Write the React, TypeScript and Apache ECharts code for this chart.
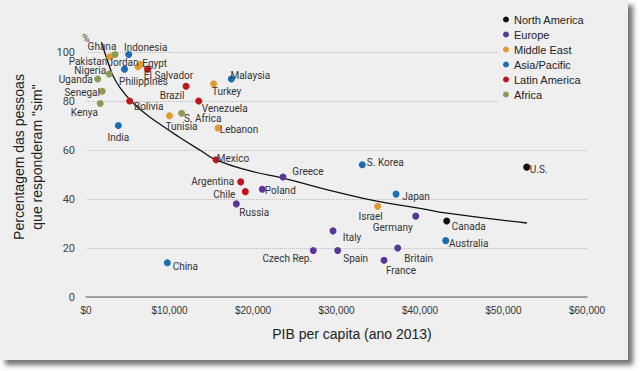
import React, { useEffect, useRef } from "react";
import * as echarts from "echarts";

type Pt = [string, number, number];

// [country, GDP per capita (US$), % answering "sim"]
const northAmerica: Pt[] = [
  ["U.S.", 52780, 53],
  ["Canada", 43200, 31],
];
const europe: Pt[] = [
  ["Greece", 23590, 49],
  ["Poland", 21110, 44],
  ["Russia", 18000, 38],
  ["Italy", 29580, 27],
  ["Czech Rep.", 27220, 19],
  ["Spain", 30140, 19],
  ["Germany", 39490, 33],
  ["Britain", 37330, 20],
  ["France", 35690, 15],
];
const middleEast: Pt[] = [
  ["Pakistan", 2870, 98],
  ["Jordan", 6230, 94],
  ["Egypt", 6550, 95],
  ["Turkey", 15290, 87],
  ["Tunisia", 10000, 74],
  ["Lebanon", 15810, 69],
  ["Israel", 34930, 37],
];
const asiaPacific: Pt[] = [
  ["Indonesia", 5110, 99],
  ["Philippines", 4610, 93],
  ["Malaysia", 17400, 89],
  ["India", 3870, 70],
  ["China", 9740, 14],
  ["S. Korea", 33090, 54],
  ["Japan", 37130, 42],
  ["Australia", 43080, 23],
];
const latinAmerica: Pt[] = [
  ["El Salvador", 7370, 93],
  ["Bolivia", 5230, 80],
  ["Brazil", 11980, 86],
  ["Venezuela", 13500, 80],
  ["Mexico", 15570, 56],
  ["Argentina", 18530, 47],
  ["Chile", 19080, 43],
];
const africa: Pt[] = [
  ["Ghana", 3470, 99],
  ["Nigeria", 2780, 91],
  ["Uganda", 1400, 89],
  ["Senegal", 1940, 84],
  ["Kenya", 1710, 79],
  ["S. Africa", 11460, 75],
];

// trend curve
const trendX = [1850, 2670, 3270, 4280, 5270, 6670, 8660, 11050, 13860, 15570, 19640, 23590, 30420, 34970, 40000, 43230, 52810];
const trendY = [104, 95.5, 90, 84.5, 80.5, 76, 71, 65.5, 59.5, 56, 51.5, 48.5, 42.5, 39, 36.2, 34.2, 30.2];

const xTicks = [0, 10000, 20000, 30000, 40000, 50000, 60000];
const yTicks = [0, 20, 40, 60, 80, 100];

const regionNames = ["North America", "Europe", "Middle East", "Asia/Pacific", "Latin America", "Africa"];
const regionData = [northAmerica, europe, middleEast, asiaPacific, latinAmerica, africa];
const regionColors = ["#111111", "#5b3597", "#e09a30", "#1d6db5", "#c0141b", "#8b9a55"];

// label placement (pixel offset of label centre from dot)
const labelOffset: Record<string, [number, number]> = {
  Ghana: [-13, -8],
  Pakistan: [-22, 5],
  Indonesia: [17, -7],
  Jordan: [-15, -4],
  Egypt: [14, -1],
  "El Salvador": [21, 6],
  Philippines: [19, 12],
  Nigeria: [-19, -4],
  Uganda: [-22, 1],
  Senegal: [-20, 1],
  Kenya: [-16, 9],
  Bolivia: [19, 5],
  India: [0, 12],
  Brazil: [-14, 9],
  Venezuela: [26, 7],
  Turkey: [13, 8],
  Malaysia: [19, -3],
  Tunisia: [12, 11],
  "S. Africa": [21, 5],
  Lebanon: [21, 2],
  Mexico: [17, -1],
  Greece: [25, -5],
  Argentina: [-28, 0],
  Chile: [-21, 3],
  Poland: [18, 1],
  Russia: [18, 9],
  Italy: [19, 7],
  "Czech Rep.": [-26, 8],
  Spain: [18, 8],
  China: [18, 4],
  "S. Korea": [23, -2],
  "U.S.": [12, 2],
  Japan: [20, 2],
  Israel: [-7, 10],
  Germany: [-23, 11],
  Canada: [22, 5],
  Australia: [23, 3],
  Britain: [21, 10],
  France: [17, 10],
};

const fmtMoney = (v: number) => "$" + String(v).replace(/\B(?=(\d{3})+(?!\d))/g, ",");

export default function App() {
  const ref = useRef<HTMLDivElement>(null);
  useEffect(() => {
    if (!ref.current) return;
    const chart = echarts.init(ref.current, null, { renderer: "svg" });
    const labelFont = "Roboto, 'Liberation Sans', Arial, sans-serif";
    const scatterSeries = regionNames.map((name, i) => ({
      name,
      type: "scatter",
      symbol: "circle",
      symbolSize: 7,
      itemStyle: { color: regionColors[i], opacity: 1 },
      label: {
        show: true,
        position: "inside",
        formatter: "{b}",
        color: "#333",
        fontSize: 10,
        fontFamily: labelFont,
        textBorderWidth: 0,
      },
      data: regionData[i].map(([n, x, y]) => ({
        name: n,
        value: [x, y],
        label: { offset: labelOffset[n] || [0, 0] },
      })),
      z: 3,
    }));
    chart.setOption({
      animation: false,
      backgroundColor: "transparent",
      grid: { left: 86, top: 52, right: 53, bottom: 74 },
      legend: {
        data: regionNames,
        orient: "vertical",
        left: 498,
        top: 8,
        padding: [5, 20, 5, 5],
        backgroundColor: "#efefef",
        icon: "circle",
        itemWidth: 6,
        itemHeight: 6,
        itemGap: 2,
        textStyle: { fontSize: 11, color: "#222", fontFamily: "'Liberation Sans', Arial, sans-serif", lineHeight: 13 },
        z: 10,
      },
      xAxis: {
        type: "value",
        min: xTicks[0],
        max: xTicks[xTicks.length - 1],
        interval: xTicks[1] - xTicks[0],
        axisLine: { show: true, lineStyle: { color: "#8a8a8a", width: 1.5 } },
        axisTick: { show: false },
        splitLine: { show: false },
        axisLabel: {
          formatter: (v: number) => fmtMoney(v),
          color: "#333",
          fontSize: 10,
          margin: 8,
          fontFamily: "'Liberation Sans', Arial, sans-serif",
        },
      },
      yAxis: {
        type: "value",
        min: yTicks[0],
        max: yTicks[yTicks.length - 1],
        interval: yTicks[1] - yTicks[0],
        name: "%",
        nameLocation: "end",
        nameGap: 9,
        nameTextStyle: { color: "#444", fontSize: 10, align: "center", fontFamily: labelFont },
        axisLine: { show: false },
        axisTick: { show: false },
        splitLine: { show: true, lineStyle: { color: "#bdbdbd", type: "dotted", width: 1 } },
        axisLabel: { color: "#444", fontSize: 11, margin: 11, fontFamily: labelFont },
      },
      series: [
        {
          name: "trend",
          type: "line",
          data: trendX.map((x, i) => [x, trendY[i]]),
          showSymbol: false,
          smooth: true,
          clip: false,
          lineStyle: { color: "#111", width: 1.3 },
          itemStyle: { color: "#111" },
          z: 2,
          silent: true,
        },
        ...scatterSeries,
      ],
      graphic: [
        {
          type: "text",
          x: 352,
          y: 334,
          style: {
            text: "PIB per capita (ano 2013)",
            fill: "#222",
            font: "14px 'Liberation Sans', Arial, sans-serif",
            align: "center",
            verticalAlign: "middle",
          },
        },
        {
          type: "text",
          x: 28,
          y: 157,
          rotation: Math.PI / 2,
          style: {
            text: "Percentagem das pessoas\nque responderam \"sim\"",
            fill: "#222",
            font: "14px 'Liberation Sans', Arial, sans-serif",
            lineHeight: 18,
            align: "center",
            verticalAlign: "middle",
          },
        },
      ],
    });
    return () => chart.dispose();
  }, []);
  return (
    <div style={{ position: "fixed", left: 0, top: 0, width: 640, height: 371, background: "#ffffff", overflow: "hidden" }}>
      <div
        style={{
          position: "absolute",
          left: 0,
          top: 0,
          width: 628,
          height: 360,
          background: "#efefef",
          boxShadow: "5px 5px 5px rgba(0,0,0,0.55)",
        }}
      />
      <div ref={ref} style={{ position: "absolute", left: 0, top: 0, width: 640, height: 371 }} />
    </div>
  );
}
